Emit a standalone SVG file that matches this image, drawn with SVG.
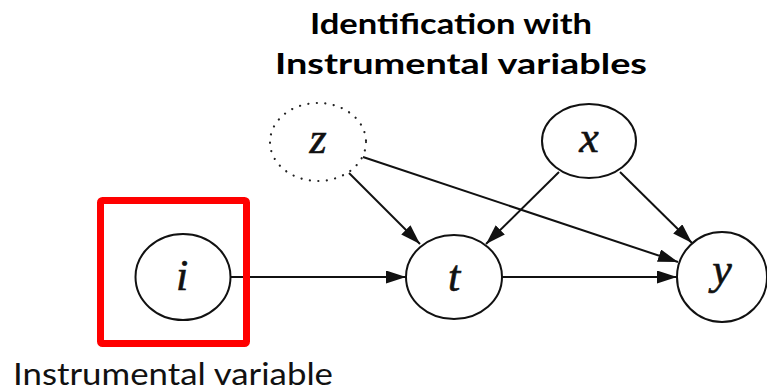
<svg xmlns="http://www.w3.org/2000/svg" width="767" height="391" viewBox="0 0 767 391">
  <style>
    .node { fill: #ffffff; stroke: #111111; stroke-width: 2; }
    .dotted { fill: #ffffff; stroke: #222222; stroke-width: 2.2; stroke-dasharray: 0.1 8.4; stroke-linecap: round; }
    .lbl { font-family: "Liberation Serif", "Times New Roman", serif; font-style: italic; font-size: 44px; fill: #111111; stroke: #111111; stroke-width: 0.6; text-anchor: middle; }
    .edge { fill: none; stroke: #111111; stroke-width: 2; marker-end: url(#arrow); }
    .title { font-family: Lato, "Open Sans", "Liberation Sans", sans-serif; font-weight: bold; font-size: 28px; fill: #000000; }
    .caption { font-family: Lato, "Open Sans", "Liberation Sans", sans-serif; font-size: 30px; fill: #111111; }
  </style>
  <defs>
    <marker id="arrow" markerUnits="userSpaceOnUse" markerWidth="22" markerHeight="14" refX="20" refY="6.5" orient="auto">
      <path d="M0,0 L20,6.5 L0,13 z" fill="#111111"/>
    </marker>
  </defs>
  <rect width="767" height="391" fill="#ffffff"/>

  <g id="title">
    <text class="title" x="310" y="34" textLength="282" lengthAdjust="spacingAndGlyphs">Identification with</text>
    <text class="title" x="275" y="74" textLength="372" lengthAdjust="spacingAndGlyphs">Instrumental variables</text>
  </g>

  <g id="connectors">
    <line class="edge" x1="231" y1="277" x2="406" y2="277"/>
    <line class="edge" x1="502" y1="277" x2="677" y2="277"/>
    <line class="edge" x1="349" y1="173" x2="420" y2="244"/>
    <line class="edge" x1="363" y1="157" x2="678" y2="262"/>
    <line class="edge" x1="559" y1="172" x2="486" y2="244"/>
    <line class="edge" x1="620" y1="172" x2="692" y2="243"/>
  </g>

  <g id="node-z">
    <ellipse class="dotted" cx="318" cy="142" rx="48" ry="39"/>
    <text class="lbl" x="318" y="153">z</text>
  </g>
  <g id="node-x">
    <ellipse class="node" cx="589" cy="141" rx="47" ry="37"/>
    <text class="lbl" x="589" y="152">x</text>
  </g>
  <g id="node-i">
    <ellipse class="node" cx="183" cy="277" rx="47.5" ry="43"/>
    <text class="lbl" x="182" y="290">i</text>
  </g>
  <g id="node-t">
    <ellipse class="node" cx="454" cy="277" rx="48" ry="42"/>
    <text class="lbl" x="454" y="291">t</text>
  </g>
  <g id="node-y">
    <ellipse class="node" cx="722" cy="277" rx="45" ry="45"/>
    <text class="lbl" x="722" y="284">y</text>
  </g>

  <g id="highlight">
    <rect x="100.5" y="200.5" width="146" height="143" rx="2" fill="none" stroke="#ff0000" stroke-width="7"/>
    <text class="caption" x="13" y="385" textLength="320" lengthAdjust="spacingAndGlyphs">Instrumental variable</text>
  </g>
</svg>
